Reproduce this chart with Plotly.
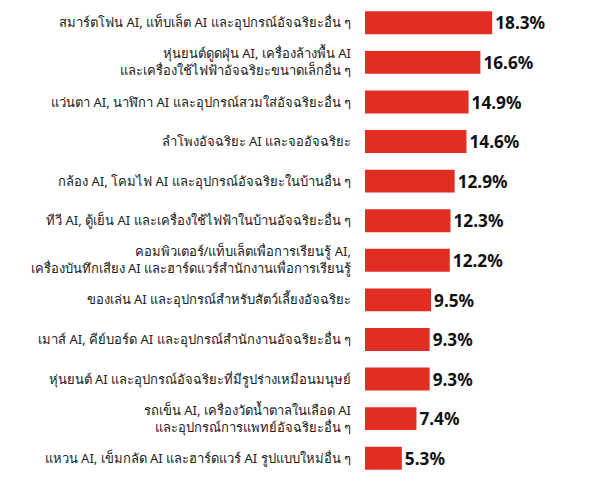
import plotly.graph_objects as go

categories = [
    "สมาร์ตโฟน AI, แท็บเล็ต AI และอุปกรณ์อัจฉริยะอื่น ๆ",
    "หุ่นยนต์ดูดฝุ่น AI, เครื่องล้างพื้น AI<br>และเครื่องใช้ไฟฟ้าอัจฉริยะขนาดเล็กอื่น ๆ",
    "แว่นตา AI, นาฬิกา AI และอุปกรณ์สวมใส่อัจฉริยะอื่น ๆ",
    "ลำโพงอัจฉริยะ AI และจออัจฉริยะ",
    "กล้อง AI, โคมไฟ AI และอุปกรณ์อัจฉริยะในบ้านอื่น ๆ",
    "ทีวี AI, ตู้เย็น AI และเครื่องใช้ไฟฟ้าในบ้านอัจฉริยะอื่น ๆ",
    "คอมพิวเตอร์/แท็บเล็ตเพื่อการเรียนรู้ AI,<br>เครื่องบันทึกเสียง AI และฮาร์ดแวร์สำนักงานเพื่อการเรียนรู้",
    "ของเล่น AI และอุปกรณ์สำหรับสัตว์เลี้ยงอัจฉริยะ",
    "เมาส์ AI, คีย์บอร์ด AI และอุปกรณ์สำนักงานอัจฉริยะอื่น ๆ",
    "หุ่นยนต์ AI และอุปกรณ์อัจฉริยะที่มีรูปร่างเหมือนมนุษย์",
    "รถเข็น AI, เครื่องวัดน้ำตาลในเลือด AI<br>และอุปกรณ์การแพทย์อัจฉริยะอื่น ๆ",
    "แหวน AI, เข็มกลัด AI และฮาร์ดแวร์ AI รูปแบบใหม่อื่น ๆ",
]
values = [18.3, 16.6, 14.9, 14.6, 12.9, 12.3, 12.2, 9.5, 9.3, 9.3, 7.4, 5.3]
value_labels = [f"{v:.1f}%" for v in values]

fig = go.Figure(
    go.Bar(
        x=values,
        y=categories,
        orientation="h",
        marker=dict(color="#E22D22", line=dict(width=0)),
        width=0.58,
        text=value_labels,
        textposition="outside",
        textfont=dict(size=18, color="#111111", family="Noto Sans, sans-serif", weight="bold"),
        cliponaxis=False,
    )
)

fig.update_layout(
    width=602,
    height=489,
    margin=dict(l=365, r=0, t=3, b=11),
    paper_bgcolor="white",
    plot_bgcolor="white",
    showlegend=False,
    font=dict(family="Noto Sans, sans-serif", size=13, color="#222222"),
    xaxis=dict(range=[0, 34.1], visible=False, showgrid=False, zeroline=False),
    yaxis=dict(
        range=[11.5, -0.5],
        type="category",
        showgrid=False,
        zeroline=False,
        showline=False,
        ticks="",
        ticklabelstandoff=13,
        automargin=False,
        tickfont=dict(size=13, color="#222222"),
    ),
)

fig.write_html("out.html")
